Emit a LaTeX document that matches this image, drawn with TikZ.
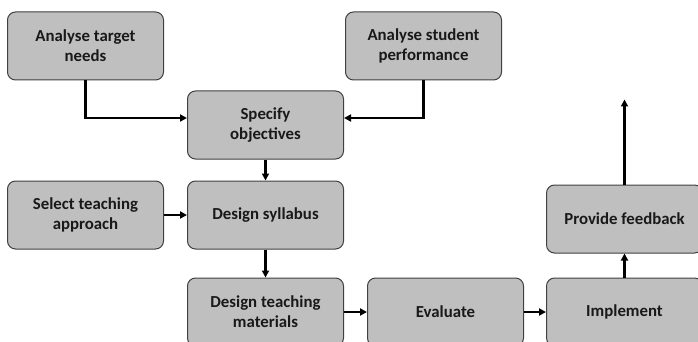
\documentclass[tikz,border=0pt]{standalone}
\usepackage{fontspec}
\setmainfont{Carlito}
\usepackage{tikz}
\usetikzlibrary{positioning, arrows.meta}

\begin{document}
\begin{tikzpicture}[
    x=1pt, y=1pt,
    stepbox/.style={rectangle, rounded corners=8pt, draw=black!75, line width=1pt,
        fill=black!25, minimum width=156pt, minimum height=68pt, align=center,
        font=\bfseries\fontsize{16.8}{20}\selectfont, text=black!90},
    flow/.style={-{Triangle[length=7pt, width=7pt]}, line width=2.2pt, black}
]
\useasboundingbox (0,0) rectangle (698,-342);

% Objectives and their inputs
\node[stepbox] (spec) at (265.5,-125) {Specify\\objectives};
\node[stepbox, above left=10pt and 23pt of spec] (needs) {Analyse target\\needs};
\node[stepbox, above right=10pt and 1pt of spec] (perf) {Analyse student\\performance};

% Syllabus row
\node[stepbox, below=21pt of spec] (syll) {Design syllabus};
\node[stepbox, left=23pt of syll] (approach) {Select teaching\\approach};

% Bottom row
\node[stepbox, below=28pt of syll] (mat) {Design teaching\\materials};
\node[stepbox, right=23pt of mat] (eval) {Evaluate};
\node[stepbox, right=22pt of eval] (impl) {Implement};
\node[stepbox, above=24pt of impl] (feed) {Provide feedback};
\coordinate[above=85pt of feed] (loop);

% Connectors
\draw[flow] (needs.south) |- ([yshift=7pt]spec.west);
\draw[flow] (perf.south) |- ([yshift=7pt]spec.east);
\draw[flow] (spec) -- (syll);
\draw[flow] (approach) -- (syll);
\draw[flow] (syll) -- (mat);
\draw[flow] (mat) -- (eval);
\draw[flow] (eval) -- (impl);
\draw[flow] (impl) -- (feed);
\draw[flow] (feed) -- (loop);

\end{tikzpicture}
\end{document}
